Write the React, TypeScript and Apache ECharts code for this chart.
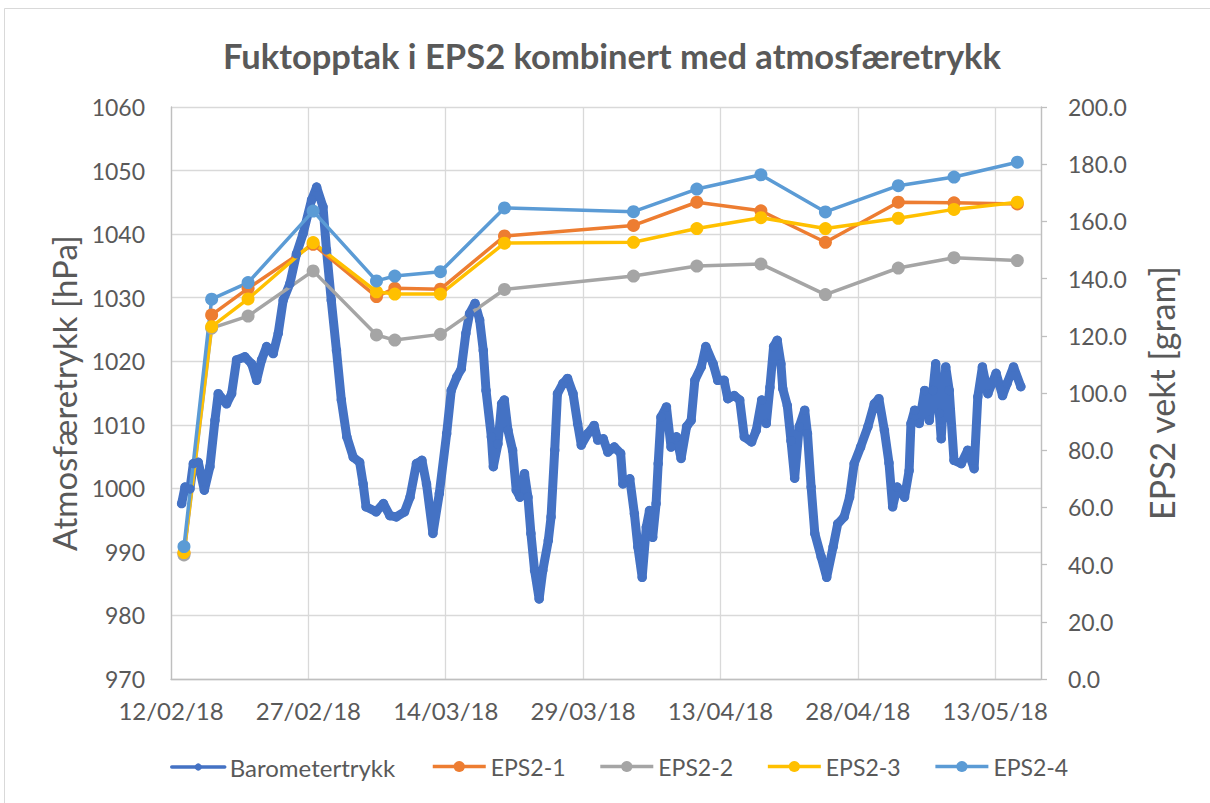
import React, { useEffect, useRef } from 'react';
import * as echarts from 'echarts';

// ---------- data ----------
// x axis: days since 12/02/18 00:00
const START = Date.UTC(2018, 1, 12);
const DAY = 86400000;
const xTickLabels = ['12/02/18', '27/02/18', '14/03/18', '29/03/18', '13/04/18', '28/04/18', '13/05/18'];

// Barometer readings (day offset from 12/02/18, hPa)
const baroDay = [
  1.16, 1.53, 2.07, 2.44, 2.98, 3.64, 4.25, 4.8, 5.16, 6.07, 6.62, 7.16, 8.07, 8.8, 9.35, 9.89,
  10.44, 11.16, 11.71, 12.25, 12.98, 13.7, 14.43, 15.35, 15.9, 16.6, 16.98, 17.5, 18.07, 18.6,
  19.2, 19.9, 20.6, 20.98, 21.3, 22.4, 23.2, 23.9, 24.6, 25.5, 26.1, 26.8, 27.4, 27.9, 28.6,
  29.3, 30.1, 30.6, 31.2, 31.7, 32.2, 32.6, 33.2, 33.7, 34.1, 34.4, 34.98, 35.2, 35.7, 36.1,
  36.4, 36.8, 37.3, 37.7, 38.1, 38.6, 38.98, 39.3, 39.7, 40.2, 40.6, 41.2, 41.5, 41.9, 42.2,
  42.8, 43.3, 43.9, 44.4, 44.8, 45.5, 46.2, 46.6, 47.2, 47.7, 48.4, 49.1, 49.35, 50.1, 50.6,
  50.98, 51.45, 51.9, 52.25, 52.6, 52.97, 53.2, 53.5, 54.1, 54.6, 55.2, 55.7, 56.3, 56.8,
  57.2, 57.9, 58.4, 59.2, 59.7, 60.4, 60.8, 61.5, 62.1, 62.6, 63.4, 63.9, 64.5, 65.0, 65.4,
  65.8, 66.2, 66.6, 66.8, 67.3, 67.7, 68.1, 68.6, 69.2, 69.5, 69.9, 70.3, 71.0, 71.6, 72.3,
  72.8, 73.5, 74.1, 74.6, 75.3, 76.1, 76.8, 77.3, 77.9, 78.4, 78.8, 79.3, 80.1, 80.6, 80.8,
  81.2, 81.7, 82.3, 82.8, 83.2, 83.5, 83.9, 84.1, 84.6, 84.98, 85.5, 86.3, 87.0, 87.7, 88.1,
  88.6, 89.2, 90.1, 90.8, 91.3, 92.0, 92.8,
];
const baroHPa = [
  997.6, 1000.2, 999.9, 1003.9, 1004.1, 999.7, 1003.4, 1010.7, 1014.9, 1013.3, 1014.9, 1020.2,
  1020.7, 1019.6, 1017.0, 1020.2, 1022.3, 1021.2, 1024.4, 1029.6, 1032.2, 1036.9, 1040.1, 1045.4,
  1047.4, 1044.3, 1037.5, 1029.6, 1021.7, 1013.9, 1008.1, 1004.9, 1004.1, 1000.7, 997.1, 996.3,
  997.6, 995.7, 995.5, 996.3, 998.6, 1003.9, 1004.4, 1000.7, 992.9, 999.2, 1008.6, 1015.4,
  1017.5, 1018.8, 1024.4, 1027.5, 1029.1, 1026.5, 1021.7, 1015.4, 1008.1, 1003.4, 1007.0, 1013.3,
  1013.9, 1009.1, 1006.0, 999.7, 998.6, 1002.3, 998.6, 992.9, 987.1, 982.6, 987.1, 991.8, 995.5,
  1006.0, 1014.9, 1016.5, 1017.3, 1014.9, 1010.2, 1006.8, 1008.6, 1009.9, 1007.6, 1007.8, 1005.7,
  1006.5, 1005.5, 1000.7, 1001.5, 996.0, 990.8, 986.0, 993.9, 996.5, 992.3, 997.6, 1003.9, 1011.2,
  1012.8, 1006.5, 1008.1, 1004.7, 1009.7, 1010.7, 1017.0, 1019.1, 1022.3, 1019.6, 1017.0, 1017.0,
  1014.1, 1014.6, 1013.9, 1008.1, 1007.3, 1009.1, 1013.9, 1010.2, 1015.9, 1022.3, 1023.3, 1019.6,
  1015.7, 1013.0, 1007.5, 1001.6, 1009.7, 1012.3, 1008.6, 1000.2, 992.9, 989.2, 986.0, 990.8,
  994.4, 995.5, 998.6, 1003.9, 1006.5, 1009.7, 1013.3, 1014.1, 1009.1, 1004.0, 997.1, 1000.2,
  998.6, 1002.8, 1010.2, 1012.3, 1010.2, 1015.4, 1010.7, 1015.4, 1019.6, 1011.8, 1007.8, 1019.1,
  1015.4, 1004.4, 1003.9, 1006.0, 1003.1, 1014.4, 1019.1, 1014.9, 1018.1, 1014.6, 1016.5, 1019.1,
  1016.0,
];

// EPS2 weighing dates and weights (gram)
const epsDates = [
  '2018-02-13 10:00', '2018-02-16 10:30', '2018-02-20 10:00', '2018-02-27 12:30',
  '2018-03-06 10:30', '2018-03-08 10:30', '2018-03-13 10:00', '2018-03-20 10:00',
  '2018-04-03 12:00', '2018-04-10 10:00', '2018-04-17 10:00', '2018-04-24 11:00',
  '2018-05-02 10:00', '2018-05-08 12:00', '2018-05-15 10:00',
];
const eps1 = [44.0, 127.3, 136.6, 152.0, 133.7, 136.6, 136.3, 154.9, 158.6, 166.7, 163.7, 152.7, 166.7, 166.5, 166.1];
const eps2 = [43.4, 122.7, 126.9, 142.7, 120.3, 118.5, 120.5, 136.2, 140.9, 144.4, 145.1, 134.4, 143.7, 147.3, 146.3];
const eps3 = [44.2, 123.2, 132.9, 152.6, 135.4, 134.6, 134.6, 152.4, 152.7, 157.5, 161.3, 157.5, 161.1, 164.2, 166.7];
const eps4 = [46.3, 132.8, 138.6, 163.6, 139.2, 140.9, 142.4, 164.7, 163.4, 171.3, 176.3, 163.3, 172.5, 175.5, 180.7];

const epsNames = ['EPS2-1', 'EPS2-2', 'EPS2-3', 'EPS2-4'];
const epsValues = [eps1, eps2, eps3, eps4];
const epsColors = ['#ED7D31', '#A5A5A5', '#FFC000', '#5B9BD5'];

// ---------- helpers ----------
const toDay = (s: string) => {
  const [d, t] = s.split(' ');
  const [y, m, dd] = d.split('-').map(Number);
  const [h, mi] = t.split(':').map(Number);
  return (Date.UTC(y, m - 1, dd, h, mi) - START) / DAY;
};

const GREY = '#595959';
const FONT = 'Lato, "Open Sans", sans-serif';
const AXIS_LINE = { show: true, lineStyle: { color: '#BFBFBF', width: 1.3 } };
const GRID_LINE = { show: true, lineStyle: { color: '#D9D9D9', width: 1.3 } };

export default function App() {
  const ref = useRef<HTMLDivElement>(null);

  useEffect(() => {
    if (!ref.current) return;
    const chart = echarts.init(ref.current, undefined, { renderer: 'svg' });
    const epsX = epsDates.map(toDay);

    const option: any = {
      animation: false,
      backgroundColor: '#ffffff',
      textStyle: { fontFamily: FONT },
      title: {
        text: 'Fuktopptak i EPS2 kombinert med atmosfæretrykk',
        left: 607,
        textAlign: 'center',
        top: 33,
        textStyle: { fontFamily: FONT, fontWeight: 'bold', fontSize: 34.5, color: GREY },
      },
      graphic: [
        { type: 'line', shape: { x1: 4.5, y1: 8.5, x2: 1210, y2: 8.5 }, style: { stroke: '#D9D9D9', lineWidth: 1 } },
        { type: 'line', shape: { x1: 4.5, y1: 8.5, x2: 4.5, y2: 803 }, style: { stroke: '#D9D9D9', lineWidth: 1 } },
      ],
      grid: { left: 171, right: 169, top: 107, bottom: 124, containLabel: false },
      legend: [
        {
          data: ['Barometertrykk'],
          left: 170,
          top: 755,
          padding: 0,
          itemWidth: 53,
          itemHeight: 9,
          itemGap: 34,
          lineStyle: { width: 3.5 },
          textStyle: { fontFamily: FONT, fontSize: 24, color: GREY },
        },
        {
          data: epsNames,
          left: 431,
          top: 755,
          padding: 0,
          itemWidth: 53,
          itemHeight: 14,
          itemGap: 33,
          lineStyle: { width: 3.5 },
          textStyle: { fontFamily: FONT, fontSize: 23, color: GREY },
        },
      ],
      xAxis: {
        type: 'value',
        min: 0,
        max: 95,
        interval: 15,
        axisLine: AXIS_LINE,
        axisTick: { show: false },
        splitLine: GRID_LINE,
        axisLabel: {
          color: GREY,
          fontFamily: FONT,
          fontSize: 24,
          margin: 19,
          formatter: (v: number) => (v % 15 === 0 ? xTickLabels[v / 15] ?? '' : ''),
        },
      },
      yAxis: [
        {
          type: 'value',
          position: 'left',
          min: 970,
          max: 1060,
          interval: 10,
          name: 'Atmosfæretrykk [hPa]',
          nameLocation: 'middle',
          nameRotate: 90,
          nameGap: 91,
          nameTextStyle: { fontFamily: FONT, fontSize: 33, color: GREY },
          axisLine: AXIS_LINE,
          axisTick: { show: false },
          splitLine: GRID_LINE,
          axisLabel: {
            color: GREY,
            fontFamily: FONT,
            fontSize: 23,
            margin: 26,
            formatter: (v: number) => String(v),
          },
        },
        {
          type: 'value',
          position: 'right',
          min: 0,
          max: 200,
          interval: 20,
          name: 'EPS2 vekt [gram]',
          nameLocation: 'middle',
          nameRotate: 90,
          nameGap: 103,
          nameTextStyle: { fontFamily: FONT, fontSize: 34, color: GREY },
          axisLine: AXIS_LINE,
          axisTick: { show: true, length: 6, lineStyle: { color: '#BFBFBF', width: 1.3 } },
          splitLine: { show: false },
          axisLabel: {
            color: GREY,
            fontFamily: FONT,
            fontSize: 23,
            margin: 27,
            formatter: (v: number) => v.toFixed(1),
          },
        },
      ],
      series: [
        {
          name: 'Barometertrykk',
          type: 'line',
          yAxisIndex: 0,
          data: baroDay.map((d, i) => [d, baroHPa[i]]),
          symbol: 'circle',
          symbolSize: 9.5,
          showSymbol: true,
          lineStyle: { width: 9, color: '#4472C4', cap: 'round', join: 'round' },
          itemStyle: { color: '#4472C4' },
          emphasis: { disabled: true },
        },
        ...epsNames.map((name, k) => ({
          name,
          type: 'line',
          yAxisIndex: 1,
          data: epsX.map((d, i) => [d, epsValues[k][i]]),
          symbol: 'circle',
          symbolSize: 13,
          showSymbol: true,
          lineStyle: { width: 3.5, color: epsColors[k] },
          itemStyle: { color: epsColors[k] },
          emphasis: { disabled: true },
        })),
      ],
    };

    chart.setOption(option);
    return () => chart.dispose();
  }, []);

  return <div ref={ref} style={{ position: 'fixed', left: 0, top: 0, width: 1210, height: 803 }} />;
}
